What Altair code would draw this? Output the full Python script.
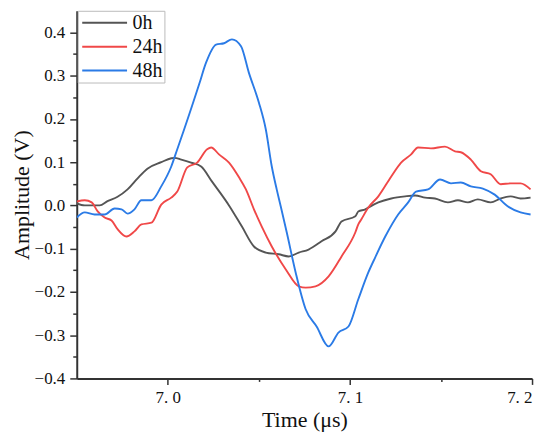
import altair as alt
import pandas as pd

FONT = "Liberation Serif"

# ---- data ----
t_0h = [6.950, 6.9544, 6.9626, 6.9669, 6.9724, 6.9779, 6.9833, 6.9888, 6.9964, 7.0019,
        7.0036, 7.0074, 7.0128, 7.0183, 7.0243, 7.0336, 7.0407, 7.0473, 7.0538, 7.0609,
        7.0664, 7.0719, 7.0773, 7.0844, 7.0921, 7.0954, 7.1030, 7.1046, 7.1085, 7.1101,
        7.1156, 7.1227, 7.1303, 7.1358, 7.1413, 7.1467, 7.1538, 7.1593, 7.1648, 7.1702,
        7.1773, 7.1828, 7.1883, 7.1937, 7.1992]
v_0h = [0.005, 0.0, 0.0, 0.01, 0.02, 0.037, 0.062, 0.085, 0.10, 0.109,
        0.11, 0.106, 0.099, 0.09, 0.055, 0.0, -0.049, -0.095, -0.109, -0.113,
        -0.118, -0.109, -0.102, -0.083, -0.06, -0.037, -0.025, -0.014, -0.009, -0.005,
        0.007, 0.016, 0.021, 0.023, 0.018, 0.016, 0.007, 0.012, 0.007, 0.014,
        0.007, 0.016, 0.021, 0.016, 0.018]

t_24h = [6.950, 6.9544, 6.9582, 6.9615, 6.9653, 6.9691, 6.9724, 6.9773, 6.9817, 6.9855,
         6.9910, 6.9964, 7.0019, 7.0052, 7.0107, 7.0161, 7.0216, 7.0238, 7.0281, 7.0336,
         7.0391, 7.0429, 7.0473, 7.0516, 7.0571, 7.0648, 7.0719, 7.0757, 7.0811, 7.0883,
         7.0954, 7.1030, 7.1046, 7.1063, 7.1101, 7.1156, 7.1227, 7.1281, 7.1336, 7.1374,
         7.1445, 7.1522, 7.1577, 7.1609, 7.1664, 7.1719, 7.1773, 7.1828, 7.1883, 7.1937,
         7.1992]
v_24h = [0.009, 0.012, 0.007, -0.014, -0.028, -0.035, -0.055, -0.072, -0.06, -0.044,
         -0.04, 0.002, 0.018, 0.032, 0.088, 0.099, 0.13, 0.134, 0.118, 0.099,
         0.065, 0.037, -0.009, -0.049, -0.095, -0.148, -0.187, -0.19, -0.187, -0.164,
         -0.118, -0.062, -0.044, -0.032, -0.005, 0.021, 0.067, 0.099, 0.118, 0.134,
         0.132, 0.136, 0.125, 0.123, 0.106, 0.079, 0.072, 0.049, 0.051, 0.051,
         0.037]

t_48h = [6.950, 6.9544, 6.9598, 6.9653, 6.9708, 6.9746, 6.9779, 6.9817, 6.9855, 6.9910,
         6.9964, 7.0019, 7.0052, 7.0090, 7.0172, 7.0210, 7.0265, 7.0309, 7.0352, 7.0402,
         7.0445, 7.0500, 7.0538, 7.0571, 7.0598, 7.0620, 7.0653, 7.0702, 7.0757, 7.0817,
         7.0883, 7.0937, 7.0992, 7.1046, 7.1101, 7.1139, 7.1194, 7.1265, 7.1320, 7.1363,
         7.1429, 7.1495, 7.1555, 7.1609, 7.1664, 7.1730, 7.1795, 7.1866, 7.1937, 7.1992]
v_48h = [-0.028, -0.016, -0.021, -0.021, -0.007, -0.009, -0.019, -0.009, 0.012, 0.012,
         0.044, 0.09, 0.13, 0.176, 0.28, 0.33, 0.372, 0.375, 0.384, 0.368,
         0.307, 0.238, 0.176, 0.09, 0.037, -0.002, -0.062, -0.155, -0.24, -0.28,
         -0.326, -0.294, -0.28, -0.217, -0.155, -0.12, -0.072, -0.021, 0.007, 0.032,
         0.037, 0.06, 0.051, 0.053, 0.044, 0.039, 0.025, -0.002, -0.016, -0.021]

series_names = ["0h", "24h", "48h"]
series_colors = ["#555555", "#f04848", "#2b7be6"]

x_major = [7.0, 7.1, 7.2]
x_minor = [7.05, 7.15]
y_major = [-0.4, -0.3, -0.2, -0.1, 0.0, 0.1, 0.2, 0.3, 0.4]
y_minor = [-0.35, -0.25, -0.15, -0.05, 0.05, 0.15, 0.25, 0.35]

rows = []
for name, ts, vs in [("0h", t_0h, v_0h), ("24h", t_24h, v_24h), ("48h", t_48h, v_48h)]:
    for t, v in zip(ts, vs):
        rows.append({"series": name, "time": t, "amp": v})
df = pd.DataFrame(rows)

xscale = alt.Scale(domain=[6.95, 7.2], nice=False, zero=False)
yscale = alt.Scale(domain=[-0.4, 0.45], nice=False, zero=False)

AX = "#333333"
TXT = "#111111"

lines = alt.Chart(df).mark_line(strokeWidth=1.9, clip=True, interpolate="monotone").encode(
    x=alt.X("time:Q", scale=xscale,
            axis=alt.Axis(values=x_major, orient="bottom",
                          labelExpr="replace(format(datum.value, '.1f'), '.', '. ')",
                          tickSize=6, tickWidth=1.5, tickColor=AX,
                          domainColor=AX, domainWidth=2,
                          labelFont=FONT, labelFontSize=17, labelColor=TXT,
                          labelPadding=5, grid=False,
                          title="Time (μs)", titleFont=FONT, titleFontSize=22,
                          titleFontWeight="normal", titleColor=TXT, titlePadding=4)),
    y=alt.Y("amp:Q", scale=yscale,
            axis=alt.Axis(values=y_major, orient="left", format=".1f",
                          tickSize=7, tickWidth=1.5, tickColor=AX,
                          domainColor=AX, domainWidth=2,
                          labelFont=FONT, labelFontSize=17, labelColor=TXT,
                          labelPadding=5, grid=False,
                          title="Amplitude (V)", titleFont=FONT, titleFontSize=22,
                          titleFontWeight="normal", titleColor=TXT, titlePadding=1)),
    color=alt.Color("series:N",
                    scale=alt.Scale(domain=series_names, range=series_colors),
                    sort=series_names,
                    legend=alt.Legend(title=None, orient="none", legendX=1, legendY=0,
                                      symbolType="M-3,0H3", symbolSize=225,
                                      symbolStrokeWidth=2, symbolOffset=15,
                                      labelOffset=18, labelFont=FONT, labelFontSize=20,
                                      labelColor=TXT, strokeColor="#bbbbbb",
                                      fillColor="white", padding=2, rowPadding=4)),
)

minor = alt.Chart(df).mark_line(opacity=0).encode(
    x=alt.X("time:Q", scale=xscale,
            axis=alt.Axis(values=x_minor, orient="bottom", labels=False, domain=False,
                          tickSize=3, tickWidth=1.5, tickColor=AX, grid=False, title=None)),
    y=alt.Y("amp:Q", scale=yscale,
            axis=alt.Axis(values=y_minor, orient="left", labels=False, domain=False,
                          tickSize=4, tickWidth=1.5, tickColor=AX, grid=False, title=None)),
    detail="series:N",
)

chart = alt.layer(lines, minor).resolve_axis(x="independent", y="independent").properties(
    width=457, height=369,
    autosize=alt.AutoSizeParams(type="none"),
    padding={"left": 69, "top": 2, "right": 10, "bottom": 58},
    background="white",
).configure(font=FONT).configure_axis(
    labelFont=FONT, titleFont=FONT
).configure_legend(labelFont=FONT).configure_view(stroke=None)

chart.save("out.html", embed_options={"renderer": "svg", "actions": False})
